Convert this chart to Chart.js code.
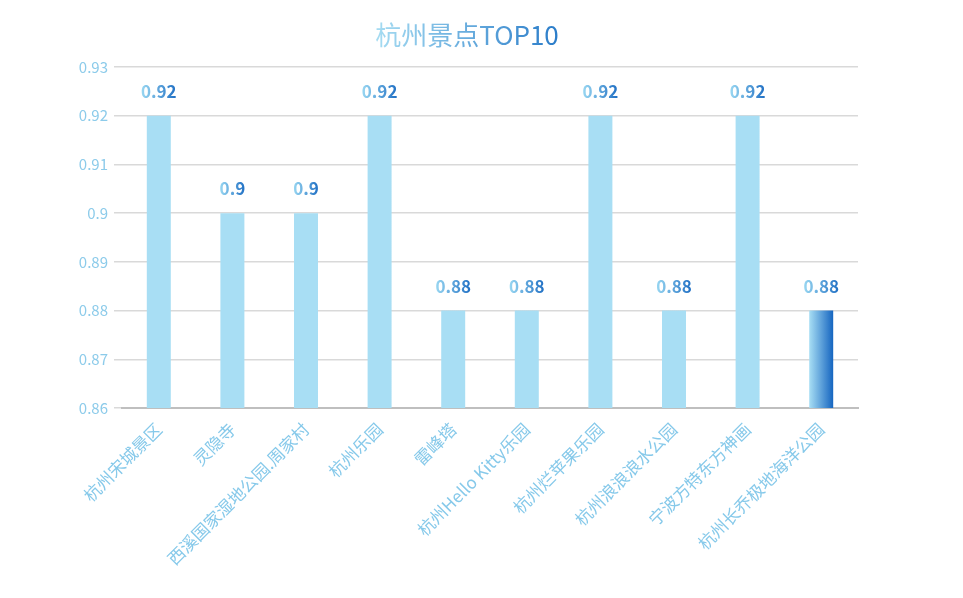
<!DOCTYPE html>
<html>
<head>
<meta charset="utf-8">
<script src="https://cdn.jsdelivr.net/npm/chart.js@4/dist/chart.umd.min.js"></script>
<style>
  html, body { margin: 0; padding: 0; background: #fff; }
  #wrap { width: 963px; height: 598px; }
</style>
</head>
<body>
<div id="wrap"><canvas id="c"></canvas></div>
<script>
let categories = ['杭州宋城景区', '灵隐寺', '西溪国家湿地公园.周家村', '杭州乐园', '雷峰塔',
  '杭州Hello Kitty乐园', '杭州烂苹果乐园', '杭州浪浪浪水公园', '宁波方特东方神画', '杭州长乔极地海洋公园'];
let scores = [0.92, 0.9, 0.9, 0.92, 0.88, 0.88, 0.92, 0.88, 0.92, 0.88];
let yTicks = [0.86, 0.87, 0.88, 0.89, 0.9, 0.91, 0.92, 0.93];

const font = '"Noto Sans CJK SC", "Noto Sans", sans-serif';

let hGrad = (ctx, x0, x1, a, b) => {
  let g = ctx.createLinearGradient(x0, 0, x1, 0);
  g.addColorStop(0, a);
  g.addColorStop(1, b);
  return g;
};

let extras = {
  id: 'extras',
  beforeDatasetsDraw(chart) {
    let ctx = chart.ctx;
    chart.getDatasetMeta(0).data.forEach((bar) => {
      let w = bar.width / 2;
      bar.options.backgroundColor = hGrad(ctx, bar.x - w, bar.x + w, '#a8def4', '#1565c0');
    });
  },
  afterDatasetsDraw(chart) {
    let ctx = chart.ctx;
    let meta = chart.getDatasetMeta(0);
    ctx.save();
    ctx.font = 'bold 17px ' + font;
    ctx.textAlign = 'center';
    ctx.textBaseline = 'alphabetic';
    meta.data.forEach((bar, i) => {
      let txt = String(scores[i]);
      let w = ctx.measureText(txt).width;
      ctx.fillStyle = hGrad(ctx, bar.x - w / 2, bar.x + w / 2, '#9ad8f2', '#1f6fc4');
      ctx.fillText(txt, bar.x, bar.y - 18);
    });
    ctx.font = '26px ' + font;
    let t = '杭州景点TOP10';
    let tw = ctx.measureText(t).width;
    ctx.fillStyle = hGrad(ctx, 467 - tw / 2, 467 + tw / 2, '#a6dcf2', '#2a7cc9');
    ctx.fillText(t, 467, 45);
    ctx.restore();
  }
};

new Chart(document.getElementById('c'), {
  type: 'bar',
  data: {
    labels: categories,
    datasets: [{
      data: scores,
      backgroundColor: '#4aa3e0',
      barPercentage: 0.326,
      categoryPercentage: 1
    }]
  },
  options: {
    responsive: true,
    maintainAspectRatio: false,
    animation: false,
    layout: { padding: { top: 67, right: 105, left: 0, bottom: 0 } },
    plugins: { legend: { display: false }, tooltip: { enabled: false }, title: { display: false } },
    scales: {
      x: {
        grid: { display: false },
        border: { color: '#bfbfbf', width: 2 },
        ticks: {
          color: '#86c9ea',
          font: { family: font, size: 17 },
          maxRotation: 45, minRotation: 45, autoSkip: false
        },
        afterFit: (s) => { s.height = 190; }
      },
      y: {
        min: 0.86, max: 0.93,
        afterBuildTicks: (s) => { s.ticks = yTicks.map(v => ({ value: v })); },
        grid: { color: '#d9d9d9', lineWidth: 1.5 },
        border: { display: false },
        ticks: {
          color: '#8ccbea',
          font: { family: font, size: 15 },
          padding: 6,
          callback: (v) => String(+v.toFixed(2))
        },
        afterFit: (s) => { s.width = 122; }
      }
    }
  },
  plugins: [extras]
});
</script>
</body>
</html>
